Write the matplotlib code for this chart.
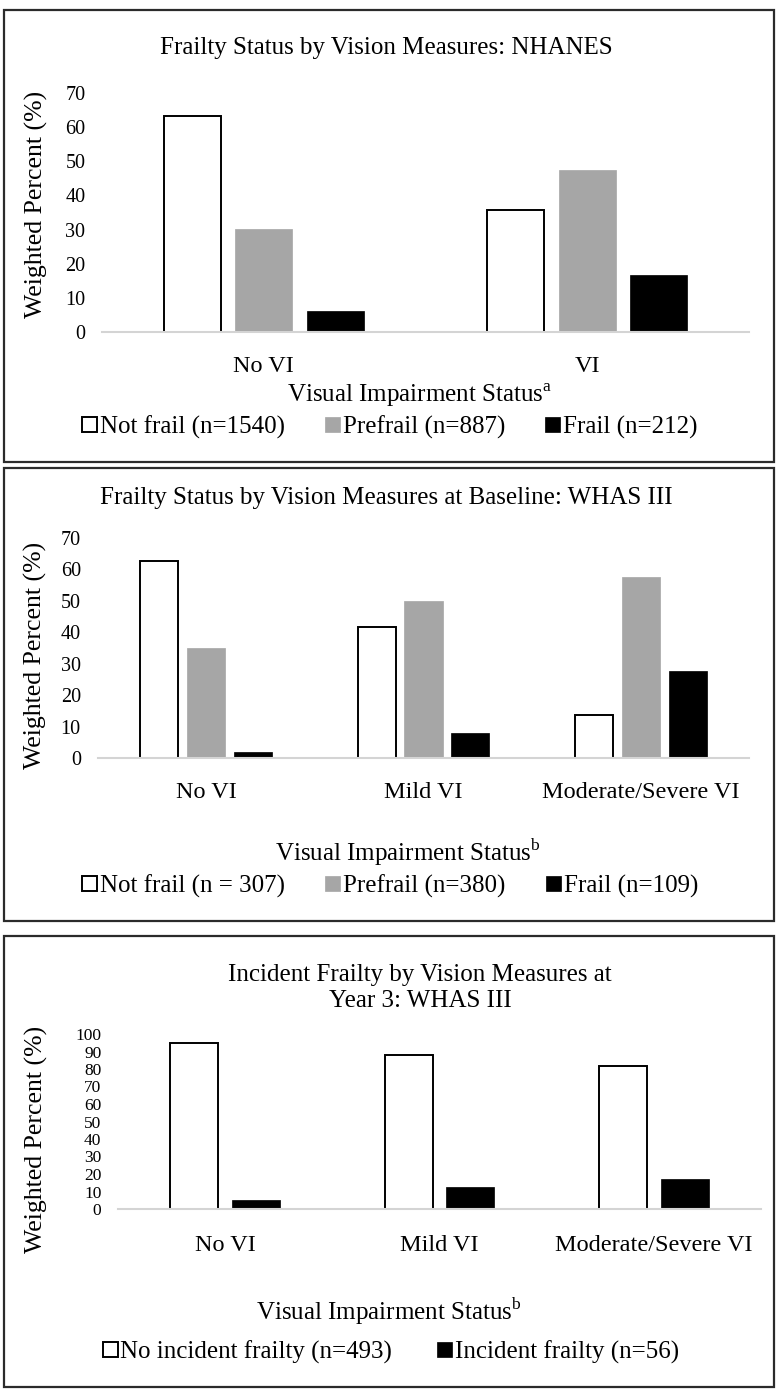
import matplotlib
matplotlib.use("Agg")
import matplotlib.pyplot as plt
import numpy as np
from matplotlib.patches import Rectangle

plt.rcParams['font.family'] = ['Liberation Serif', 'DejaVu Serif']
plt.rcParams['mathtext.fontset'] = 'custom'
plt.rcParams['mathtext.rm'] = 'Liberation Serif'

# ---------------- data ----------------
p1_title = "Frailty Status by Vision Measures: NHANES"
p1_categories = ["No VI", "VI"]
p1_not_frail = [63.3, 35.7]
p1_prefrail = [30.1, 47.5]
p1_frail = [6.2, 16.7]
p1_labels = ["Not frail (n=1540)", "Prefrail (n=887)", "Frail (n=212)"]
p1_yticks = [0, 10, 20, 30, 40, 50, 60, 70]

p2_title = "Frailty Status by Vision Measures at Baseline: WHAS III"
p2_categories = ["No VI", "Mild VI", "Moderate/Severe VI"]
p2_not_frail = [62.8, 41.6, 13.8]
p2_prefrail = [35.1, 49.8, 57.7]
p2_frail = [2.0, 7.8, 27.7]
p2_labels = ["Not frail (n = 307)", "Prefrail (n=380)", "Frail (n=109)"]
p2_yticks = [0, 10, 20, 30, 40, 50, 60, 70]

p3_title = "Incident Frailty by Vision Measures at\nYear 3: WHAS III"
p3_categories = ["No VI", "Mild VI", "Moderate/Severe VI"]
p3_no_incident = [94.8, 88.0, 82.0]
p3_incident = [5.0, 12.3, 17.1]
p3_labels = ["No incident frailty (n=493)", "Incident frailty (n=56)"]
p3_yticks = [0, 10, 20, 30, 40, 50, 60, 70, 80, 90, 100]

ylabel = "Weighted Percent (%)"
xlabel_a = "Visual Impairment Status$^{\\mathrm{a}}$"
xlabel_b = "Visual Impairment Status$^{\\mathrm{b}}$"

# ---------------- layout helpers ----------------
W, H = 780, 1390
fig = plt.figure(figsize=(W / 100, H / 100), dpi=100)


def fx(x):
    return x / W


def fy(y):
    return 1 - y / H


def axes_px(left, right, top, bottom):
    return fig.add_axes([fx(left), fy(bottom), (right - left) / W, (bottom - top) / H])


def frame(top, bottom, left=4, right=774):
    fig.patches.append(Rectangle((fx(left), fy(bottom)), (right - left) / W, (bottom - top) / H,
                                 transform=fig.transFigure, fill=False,
                                 edgecolor='#2b2b2b', linewidth=1.6))


GRAY = '#a6a6a6'
TXT = 18
TICK = 14.5


def style_axes(ax, yticks, ymax, tickfs, xpad):
    ax.set_ylim(0, ymax)
    ax.set_yticks(yticks)
    ax.tick_params(axis='y', length=0, labelsize=tickfs, pad=12)
    ax.tick_params(axis='x', length=0, labelsize=17.5, pad=xpad)
    for s in ['top', 'right', 'left']:
        ax.spines[s].set_visible(False)
    ax.spines['bottom'].set_color('#d4d4d4')
    ax.spines['bottom'].set_linewidth(1.5)
    ax.set_facecolor('none')


LEG = dict(frameon=False, fontsize=TXT, handlelength=0.6, handleheight=0.6,
           handletextpad=0.12, borderpad=0, borderaxespad=0)

# ---------------- Panel 1 ----------------
frame(10, 462)
ax1 = axes_px(102, 749, 93, 332)
x1 = np.arange(len(p1_categories))
w1, o1 = 0.176, 0.221
b11 = ax1.bar(x1 - o1, p1_not_frail, w1, color='white', edgecolor='black', linewidth=1.4, label=p1_labels[0])
b12 = ax1.bar(x1, p1_prefrail, w1, color=GRAY, edgecolor=GRAY, linewidth=0.5, label=p1_labels[1])
b13 = ax1.bar(x1 + o1, p1_frail, w1, color='black', edgecolor='black', linewidth=0.5, label=p1_labels[2])
ax1.set_xlim(-0.5, len(p1_categories) - 0.5)
ax1.set_xticks(x1, p1_categories)
style_axes(ax1, p1_yticks, 70, TICK, 17)
fig.text(fx(386), fy(48), p1_title, fontsize=TXT, ha='center', va='center')
fig.text(fx(36), fy(204), ylabel, fontsize=18.5, rotation=90, ha='center', va='center')
fig.text(fx(420), fy(395), xlabel_a, fontsize=TXT, ha='center', va='center')
ax1.legend(handles=[b11, b12, b13], loc='center', bbox_to_anchor=(fx(390), fy(427)),
           bbox_transform=fig.transFigure, ncol=3, columnspacing=1.6, **LEG)

# ---------------- Panel 2 ----------------
frame(468, 921)
ax2 = axes_px(97.5, 749.5, 538, 758)
x2 = np.arange(len(p2_categories))
w2, o2 = 0.175, 0.216
b21 = ax2.bar(x2 - o2, p2_not_frail, w2, color='white', edgecolor='black', linewidth=1.4, label=p2_labels[0])
b22 = ax2.bar(x2, p2_prefrail, w2, color=GRAY, edgecolor=GRAY, linewidth=0.5, label=p2_labels[1])
b23 = ax2.bar(x2 + o2, p2_frail, w2, color='black', edgecolor='black', linewidth=0.5, label=p2_labels[2])
ax2.set_xlim(-0.5, len(p2_categories) - 0.5)
ax2.set_xticks(x2, p2_categories)
style_axes(ax2, p2_yticks, 70, TICK, 17)
fig.text(fx(386), fy(498), p2_title, fontsize=TXT, ha='center', va='center')
fig.text(fx(35), fy(655), ylabel, fontsize=18.5, rotation=90, ha='center', va='center')
fig.text(fx(408), fy(853), xlabel_b, fontsize=TXT, ha='center', va='center')
ax2.legend(handles=[b21, b22, b23], loc='center', bbox_to_anchor=(fx(390), fy(886)),
           bbox_transform=fig.transFigure, ncol=3, columnspacing=1.6, **LEG)

# ---------------- Panel 3 ----------------
frame(936, 1387)
ax3 = axes_px(118, 761, 1034, 1209)
x3 = np.arange(len(p3_categories))
w3, o3 = 0.224, 0.1435
b31 = ax3.bar(x3 - o3, p3_no_incident, w3, color='white', edgecolor='black', linewidth=1.4, label=p3_labels[0])
b32 = ax3.bar(x3 + o3, p3_incident, w3, color='black', edgecolor='black', linewidth=0.5, label=p3_labels[1])
ax3.set_xlim(-0.5, len(p3_categories) - 0.5)
ax3.set_xticks(x3, p3_categories)
style_axes(ax3, p3_yticks, 100, 12.5, 19)
fig.text(fx(420), fy(988), p3_title, fontsize=TXT, ha='center', va='center', linespacing=1.2)
fig.text(fx(36), fy(1139), ylabel, fontsize=18.5, rotation=90, ha='center', va='center')
fig.text(fx(389), fy(1312), xlabel_b, fontsize=TXT, ha='center', va='center')
ax3.legend(handles=[b31, b32], loc='center', bbox_to_anchor=(fx(391), fy(1352)),
           bbox_transform=fig.transFigure, ncol=2, columnspacing=1.8, **LEG)

fig.savefig("out.png", dpi=100, facecolor='white')
